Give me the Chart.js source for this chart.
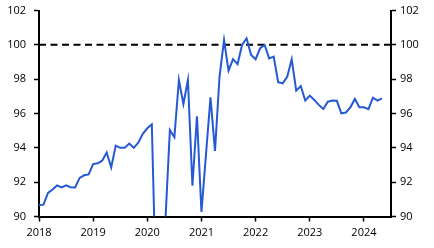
<!DOCTYPE html>
<html>
<head>
<meta charset="utf-8">
<script src="https://cdn.jsdelivr.net/npm/chart.js@4"></script>
<style>
html,body{margin:0;padding:0;background:#fff;}
#wrap{position:relative;width:434px;height:248px;}
</style>
</head>
<body>
<div id="wrap"><canvas id="c" width="434" height="248"></canvas></div>
<script>
// Monthly values, Jan 2018 .. May 2024
const values2018 = [90.67, 90.69, 91.37, 91.57, 91.81, 91.69, 91.81, 91.71, 91.69, 92.25, 92.40, 92.45];
const values2019 = [93.05, 93.10, 93.25, 93.73, 92.86, 94.13, 94.00, 94.00, 94.25, 94.00, 94.30, 94.82];
const values2020 = [95.14, 95.37, 85.00, 80.00, 89.70, 95.04, 94.62, 97.95, 96.55, 97.95, 91.79, 95.83];
const values2021 = [90.26, 93.60, 96.94, 93.82, 98.14, 100.28, 98.50, 99.17, 98.88, 99.99, 100.38, 99.41];
const values2022 = [99.16, 99.80, 99.99, 99.21, 99.31, 97.82, 97.76, 98.14, 99.16, 97.33, 97.60, 96.75];
const values2023 = [97.04, 96.79, 96.50, 96.26, 96.69, 96.75, 96.74, 96.01, 96.06, 96.36, 96.85, 96.36];
const values2024 = [96.36, 96.25, 96.92, 96.75, 96.88];
const yearLabels = ['2018', '2019', '2020', '2021', '2022', '2023', '2024'];
const yTicks = [90, 92, 94, 96, 98, 100, 102];
const referenceLevel = [100];

const series = [].concat(values2018, values2019, values2020, values2021, values2022, values2023, values2024);
const points = series.map((v, i) => ({x: i, y: v}));

const FONT = {family: '"Open Sans", "Liberation Sans", sans-serif', size: 11};

const refLinePlugin = {
  id: 'refLine',
  beforeDatasetsDraw(chart) {
    const {ctx, chartArea} = chart;
    const y = chart.scales.y.getPixelForValue(referenceLevel[0]);
    ctx.save();
    ctx.strokeStyle = '#000';
    ctx.lineWidth = 2;
    ctx.setLineDash([7, 4.5]);
    ctx.beginPath();
    ctx.moveTo(chartArea.left, y);
    ctx.lineTo(chartArea.right, y);
    ctx.stroke();
    ctx.restore();
  }
};

function fitY(width) {
  return function (scale) {
    scale.width = width;
    scale.paddingTop = 0;
    scale.paddingBottom = 0;
  };
}

const yAxisBase = {
  type: 'linear',
  min: yTicks[0],
  max: yTicks[yTicks.length - 1],
  afterBuildTicks(scale) { scale.ticks = yTicks.map(v => ({value: v})); },
  grid: {drawOnChartArea: false, drawTicks: true, tickLength: 5, tickColor: '#000', tickWidth: 1.5},
  border: {display: true, color: '#000', width: 2},
  ticks: {color: '#000', font: FONT}
};

new Chart(document.getElementById('c'), {
  type: 'line',
  data: {
    datasets: [{
      data: points,
      borderColor: '#2559d4',
      borderWidth: 2,
      pointRadius: 0,
      tension: 0,
      fill: false
    }]
  },
  options: {
    responsive: false,
    animation: false,
    events: [],
    layout: {padding: {top: 10.5, left: 0, right: 0, bottom: 0}},
    plugins: {legend: {display: false}, tooltip: {enabled: false}},
    scales: {
      x: {
        type: 'linear',
        min: 0,
        max: 78,
        afterBuildTicks(scale) {
          scale.ticks = yearLabels.map((_, i) => ({value: i * 12}));
        },
        afterFit(scale) { scale.height = 31.5; scale.paddingLeft = 0; scale.paddingRight = 0; },
        grid: {drawOnChartArea: false, drawTicks: true, tickLength: 5, tickColor: '#000', tickWidth: 1.5},
        border: {display: true, color: '#000', width: 2},
        ticks: {
          color: '#000', font: FONT, padding: 5, maxRotation: 0,
          callback: (v) => yearLabels[Math.round(v / 12)]
        }
      },
      y: Object.assign({}, yAxisBase, {
        position: 'left',
        afterFit: fitY(39),
        ticks: Object.assign({}, yAxisBase.ticks, {padding: 8})
      }),
      y2: Object.assign({}, yAxisBase, {
        position: 'right',
        afterFit: fitY(43),
        ticks: Object.assign({}, yAxisBase.ticks, {padding: 4})
      })
    }
  },
  plugins: [refLinePlugin]
});
</script>
</body>
</html>
